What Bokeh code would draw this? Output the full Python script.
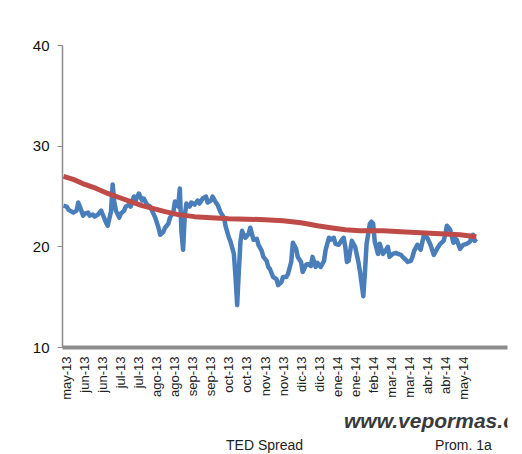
import math
from bokeh.plotting import figure
from bokeh.models import FixedTicker, Range1d, Legend, LegendItem, Label
from bokeh.layouts import column
from bokeh.embed import file_html
from bokeh.resources import INLINE

# Trading-day index (0 = start of May 2013) and TED spread values (bp)
ted_days = [0, 2, 3, 5, 6, 8, 9, 10, 12, 13, 15, 16, 18, 19, 21, 23, 24, 26, 27, 29,
            30, 31, 32, 34, 35, 37, 38, 40, 41, 43, 44, 46, 48, 49, 51, 53, 54, 56, 58, 59,
            61, 62, 64, 65, 67, 68, 70, 71, 72, 73, 74, 75, 77, 78, 80, 82, 83, 85, 87, 88,
            90, 91, 93, 94, 96, 98, 99, 101, 102, 104, 105, 106, 107, 108, 109, 110, 111, 113, 114, 116,
            118, 119, 121, 122, 124, 125, 126, 128, 130, 131, 133, 134, 136, 137, 139, 140, 142, 143, 145, 146,
            148, 149, 151, 152, 154, 155, 157, 159, 160, 162, 163, 165, 166, 168, 170, 171, 172, 173, 174, 176,
            178, 180, 181, 183, 184, 185, 187, 188, 189, 190, 192, 193, 195, 196, 198, 199, 201, 203, 204, 206,
            207, 209, 210, 212, 213, 214, 216, 218, 220, 221, 222, 224, 226, 227, 228, 230, 232, 233, 234, 236,
            238, 239, 240, 242, 244, 246, 248, 250, 251, 252]
ted_values = [24.1, 24.0, 23.7, 23.5, 23.4, 23.6, 24.4, 24.0, 23.1, 23.3, 23.4, 23.1, 23.2, 23.0, 23.2, 23.6, 23.2, 22.4, 22.1, 23.5,
              26.2, 24.5, 23.6, 22.9, 23.3, 23.6, 24.0, 24.2, 24.0, 25.0, 24.6, 25.3, 24.6, 24.8, 24.2, 24.0, 23.6, 22.9, 21.9, 21.2,
              21.5, 21.9, 22.3, 22.9, 23.4, 24.5, 24.0, 25.8, 21.5, 19.7, 23.0, 24.3, 24.0, 24.4, 24.2, 24.6, 24.3, 24.8, 25.0, 24.4,
              24.6, 25.0, 24.4, 24.2, 23.4, 22.9, 22.0, 20.9, 20.5, 19.3, 17.0, 14.2, 17.5, 20.5, 21.6, 21.2, 20.9, 21.3, 21.9, 20.7,
              20.8, 20.2, 19.6, 19.0, 18.6, 18.0, 17.8, 17.0, 16.8, 16.2, 16.5, 17.0, 17.0, 17.3, 18.5, 20.4, 19.8, 19.0, 18.5, 17.5,
              18.2, 18.3, 18.1, 19.0, 18.0, 18.4, 18.0, 18.6, 19.7, 20.9, 20.7, 20.9, 20.3, 20.2, 20.7, 20.9, 20.0, 18.5, 18.6, 20.6,
              20.0, 18.5, 17.5, 15.1, 17.5, 20.3, 22.3, 22.5, 22.3, 20.5, 19.3, 20.3, 19.3, 19.5, 20.0, 19.0, 19.3, 19.4, 19.3, 19.2,
              19.0, 18.7, 18.5, 18.6, 19.0, 19.6, 20.2, 19.7, 21.2, 21.0, 20.9, 20.2, 19.2, 19.5, 19.8, 20.3, 20.6, 21.2, 22.1, 21.7,
              20.4, 20.8, 20.7, 19.8, 20.2, 20.3, 20.5, 21.2, 20.6, 20.8]

# One-year average ("Prom. 1a")
avg_days = [0, 6, 13, 20, 27, 34, 41, 48, 55, 62, 70, 80, 90, 101, 112, 123, 134, 145, 155, 163,
            172, 181, 195, 206, 218, 230, 242, 252]
avg_values = [27.0, 26.7, 26.2, 25.8, 25.3, 24.9, 24.5, 24.1, 23.8, 23.5, 23.2, 23.0, 22.9, 22.8, 22.75, 22.7, 22.6, 22.4, 22.1, 21.9,
              21.7, 21.6, 21.6, 21.5, 21.4, 21.3, 21.2, 21.0]

tick_days = [2, 13, 24, 35, 46, 57, 68, 79, 90, 101, 112, 123, 134, 145, 156, 167, 178, 189, 200, 211, 222, 233, 244]
tick_labels = ["may-13", "jun-13", "jun-13", "jul-13", "jul-13", "ago-13", "ago-13", "sep-13", "sep-13", "oct-13",
               "oct-13", "nov-13", "nov-13", "dic-13", "dic-13", "ene-14", "ene-14", "feb-14", "mar-14", "mar-14",
               "abr-14", "abr-14", "may-14"]
y_ticks = [10, 20, 30, 40]
series_names = ["TED Spread", "Prom. 1a"]
series_colors = ["#4A7EBB", "#BE4B48"]

FONT = "Liberation Sans"

# ---- main chart ----
p = figure(width=522, height=402, output_backend="svg", toolbar_location=None,
           x_range=Range1d(-0.6, 271), y_range=Range1d(10, 40),
           min_border_left=62, min_border_top=45, min_border_right=15, min_border_bottom=50)
p.outline_line_color = None
p.xgrid.visible = False
p.ygrid.visible = False
p.background_fill_color = "white"
p.border_fill_color = "white"

p.line(ted_days, ted_values, line_color=series_colors[0], line_width=4.5, line_join="round")
p.line(avg_days, avg_values, line_color=series_colors[1], line_width=5, line_join="round")

p.yaxis.ticker = FixedTicker(ticks=y_ticks)
p.yaxis.axis_line_color = "#8c8c8c"
p.yaxis.axis_line_width = 1.5
p.yaxis.major_tick_line_color = "#8c8c8c"
p.yaxis.major_tick_out = 5
p.yaxis.major_tick_in = 0
p.yaxis.minor_tick_line_color = None
p.yaxis.major_label_text_font = FONT
p.yaxis.major_label_text_font_size = "15px"
p.yaxis.major_label_text_color = "#111111"
p.yaxis.major_label_standoff = 8

p.xaxis.ticker = FixedTicker(ticks=tick_days)
p.xaxis.major_label_overrides = {d: l for d, l in zip(tick_days, tick_labels)}
p.xaxis.major_label_orientation = math.pi / 2
p.xaxis.axis_line_color = "#8c8c8c"
p.xaxis.axis_line_width = 4
p.xaxis.major_tick_line_color = None
p.xaxis.minor_tick_line_color = None
p.xaxis.major_label_text_font = FONT
p.xaxis.major_label_text_font_size = "13px"
p.xaxis.major_label_text_color = "#222222"
p.xaxis.major_label_standoff = 3

# ---- footer strip: watermark + legend ----
f = figure(width=522, height=52, output_backend="svg", toolbar_location=None,
           x_range=Range1d(0, 1), y_range=Range1d(0, 1),
           x_axis_location=None, y_axis_location=None, min_border=0)
f.outline_line_color = None
f.xgrid.visible = False
f.ygrid.visible = False
f.background_fill_color = "white"
f.border_fill_color = "white"

r1 = f.line(x=[], y=[], line_color=series_colors[0], line_width=4.5)
r2 = f.line(x=[], y=[], line_color=series_colors[1], line_width=5)

wm = Label(x=520, y=34, x_units="screen", y_units="screen", text="www.vepormas.com.mx",
           text_align="right", text_baseline="alphabetic", text_font=FONT,
           text_font_size="21px", text_font_style="bold italic", text_color="#3a3a3a")
f.add_layout(wm)

legend = Legend(items=[LegendItem(label=series_names[0], renderers=[r1]),
                       LegendItem(label=series_names[1], renderers=[r2])],
                orientation="horizontal", location=(110, 1))
legend.border_line_color = None
legend.background_fill_alpha = 0
legend.label_text_font = FONT
legend.label_text_font_size = "14px"
legend.label_text_color = "#222222"
legend.label_height = 14
legend.glyph_width = 50
legend.glyph_height = 12
legend.spacing = 78
legend.padding = 0
legend.margin = 0
legend.label_standoff = 4
f.add_layout(legend)

layout = column(p, f, spacing=0)
open("out.html", "w").write(file_html(layout, INLINE))
